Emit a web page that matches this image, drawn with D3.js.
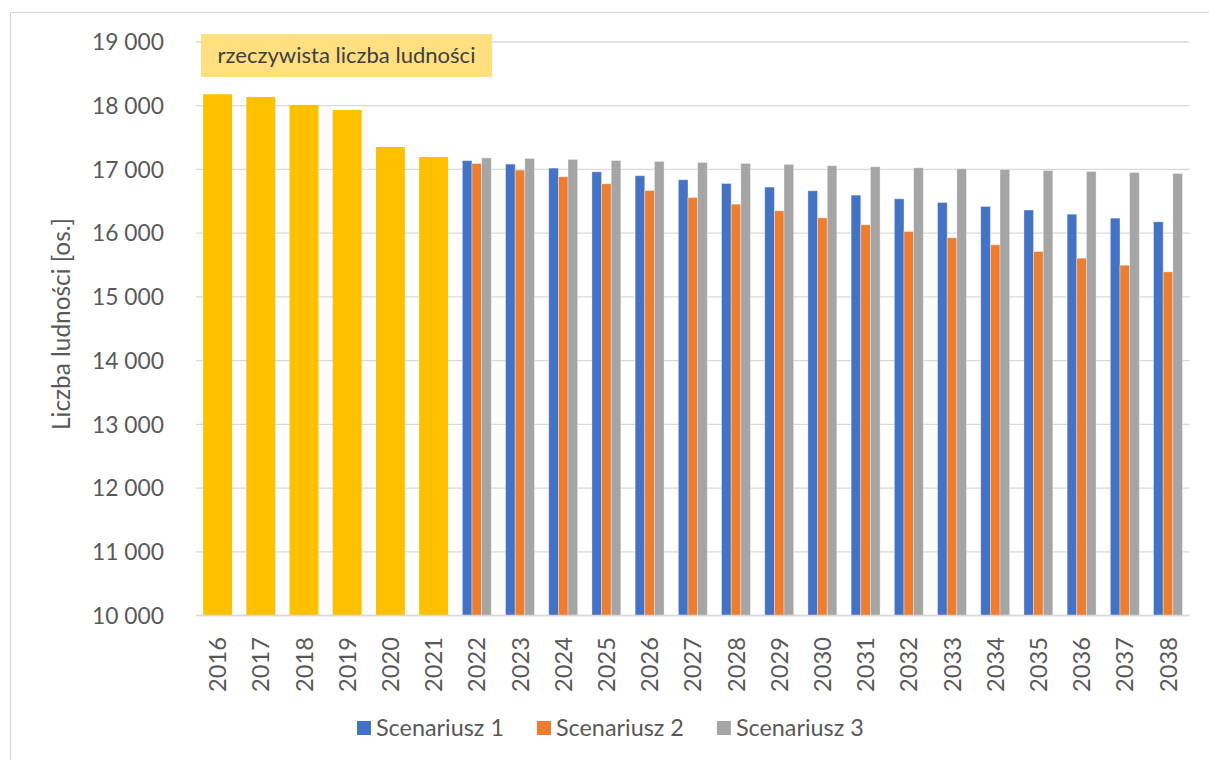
<!DOCTYPE html>
<html>
<head>
<meta charset="utf-8">
<script src="https://cdn.jsdelivr.net/npm/d3@7"></script>
<style>
  body { margin: 0; background: #fff; }
  svg { display: block; font-family: Lato, "Open Sans", sans-serif; }
</style>
</head>
<body>
<svg id="chart" width="1209" height="760"></svg>
<script>
const years = ["2016","2017","2018","2019","2020","2021","2022","2023","2024","2025","2026","2027","2028","2029","2030","2031","2032","2033","2034","2035","2036","2037","2038"];
const actualYears = ["2016","2017","2018","2019","2020","2021"];
const actualValues = [18180, 18137, 18012, 17933, 17352, 17196];
const scenarioYears = ["2022","2023","2024","2025","2026","2027","2028","2029","2030","2031","2032","2033","2034","2035","2036","2037","2038"];
const scenario1 = [17138, 17084, 17021, 16963, 16901, 16838, 16780, 16723, 16665, 16597, 16539, 16482, 16419, 16363, 16298, 16236, 16178];
const scenario2 = [17093, 16990, 16885, 16775, 16670, 16560, 16455, 16351, 16241, 16131, 16026, 15927, 15817, 15712, 15607, 15497, 15393];
const scenario3 = [17182, 17173, 17157, 17141, 17126, 17110, 17094, 17079, 17058, 17042, 17026, 17010, 17000, 16984, 16969, 16953, 16937];
const seriesNames = ["Scenariusz 1", "Scenariusz 2", "Scenariusz 3"];
const yTicks = [10000, 11000, 12000, 13000, 14000, 15000, 16000, 17000, 18000, 19000];
const yTitle = "Liczba ludności [os.]";
const annotation = "rzeczywista liczba ludności";

const colors = { actual: "#FFC000", s: ["#4472C4", "#ED7D31", "#A5A5A5"] };

const svg = d3.select("#chart");

// font size that gives a sample text a target length
function fitSize(sample, target) {
  const t = svg.append("text").attr("font-size", 20).text(sample);
  const w = t.node().getComputedTextLength();
  t.remove();
  return 20 * target / w;
}
const fsTick = fitSize("19 000", 72);
const fsX = fitSize("2016", 55);
const fsTitle = fitSize(yTitle, 212);
const fsAnn = fitSize(annotation, 258);
const fsLeg = fitSize("Scenariusz 1", 128);

// outer frame
svg.append("rect").attr("x", 10.5).attr("y", 12.5).attr("width", 1205).attr("height", 760)
  .attr("fill", "none").attr("stroke", "#D9D9D9").attr("stroke-width", 1);

const x = d3.scaleBand().domain(years).range([196, 1189.6]).paddingInner(0.33).paddingOuter(0.165);
const y = d3.scaleLinear().domain([10000, 19000]).range([615.5, 42]);
const x1 = d3.scaleBand().domain([0, 1, 2]).range([0, x.bandwidth()]);

// gridlines
svg.append("g").selectAll("line").data(yTicks).join("line")
  .attr("x1", 196).attr("x2", 1189.6)
  .attr("y1", d => y(d)).attr("y2", d => y(d))
  .attr("stroke", "#D9D9D9").attr("stroke-width", 1.3);

// y tick labels
const fmt = d => d3.format(",")(d).replace(/,/g, " ");
svg.append("g").selectAll("text").data(yTicks).join("text")
  .attr("x", 164).attr("y", d => y(d)).attr("dy", "0.36em")
  .attr("text-anchor", "end").attr("fill", "#595959").attr("font-size", fsTick)
  .text(fmt);

// y title
svg.append("text").attr("transform", "translate(70,324) rotate(-90)")
  .attr("text-anchor", "middle").attr("fill", "#595959").attr("font-size", fsTitle)
  .text(yTitle);

// actual bars
svg.append("g").selectAll("rect").data(actualYears.map((yr, i) => ({ yr, v: actualValues[i] }))).join("rect")
  .attr("x", d => x(d.yr)).attr("width", x.bandwidth())
  .attr("y", d => y(d.v)).attr("height", d => y(10000) - y(d.v))
  .attr("fill", colors.actual);

// scenario bars
const scen = [scenario1, scenario2, scenario3];
scen.forEach((arr, si) => {
  svg.append("g").selectAll("rect").data(scenarioYears.map((yr, i) => ({ yr, v: arr[i] }))).join("rect")
    .attr("x", d => x(d.yr) + x1(si)).attr("width", x1.bandwidth())
    .attr("y", d => y(d.v)).attr("height", d => y(10000) - y(d.v))
    .attr("fill", colors.s[si])
    .attr("stroke", "#ffffff").attr("stroke-opacity", 0.45).attr("stroke-width", 0.8);
});

// x axis line
svg.append("line").attr("x1", 196).attr("x2", 1189.6).attr("y1", y(10000)).attr("y2", y(10000))
  .attr("stroke", "#D9D9D9").attr("stroke-width", 1.3);

// x labels
svg.append("g").selectAll("text").data(years).join("text")
  .attr("transform", d => `translate(${x(d) + x.bandwidth() / 2},637) rotate(-90)`)
  .attr("text-anchor", "end").attr("dy", "0.36em")
  .attr("fill", "#595959").attr("font-size", fsX)
  .text(d => d);

// annotation box
svg.append("rect").attr("x", 201).attr("y", 34).attr("width", 291).attr("height", 43)
  .attr("fill", "#FFDF80");
svg.append("text").attr("x", 346.5).attr("y", 55.5).attr("dy", "0.36em")
  .attr("text-anchor", "middle").attr("fill", "#404040").attr("font-size", fsAnn)
  .text(annotation);

// legend
const lg = svg.append("g");
let lx = 357;
seriesNames.forEach((name, i) => {
  lg.append("rect").attr("x", lx).attr("y", 721).attr("width", 14).attr("height", 14).attr("fill", colors.s[i]);
  const t = lg.append("text").attr("x", lx + 19).attr("y", 728).attr("dy", "0.36em")
    .attr("fill", "#595959").attr("font-size", fsLeg).text(name);
  const w = t.node().getComputedTextLength();
  lx += 19 + w + 33;
});
</script>
</body>
</html>
